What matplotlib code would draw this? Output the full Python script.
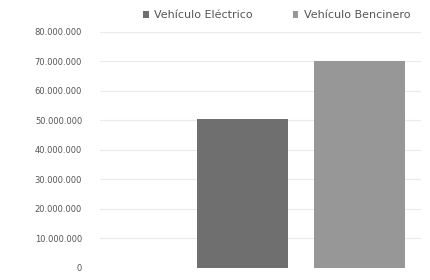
import matplotlib
matplotlib.use("Agg")
import matplotlib.pyplot as plt
from matplotlib.ticker import FuncFormatter

series = ["Vehículo Eléctrico", "Vehículo Bencinero"]
values = [50500000, 70000000]
colors = ["#6f6f6f", "#979797"]
yticks = [0, 10000000, 20000000, 30000000, 40000000, 50000000, 60000000, 70000000, 80000000]

fig = plt.figure(figsize=(4.3, 2.8), dpi=100)
ax = fig.add_axes([0.233, 0.043, 0.747, 0.843])

width = 0.4
offsets = [-0.256, 0.256]
for name, v, c, off in zip(series, values, colors, offsets):
    ax.bar(off, v, width=width, color=c, label=name, zorder=2)

ax.set_xlim(-0.882, 0.529)
ax.set_ylim(0, 80000000)
ax.set_yticks(yticks)
ax.yaxis.set_major_formatter(FuncFormatter(lambda v, p: f"{int(v):,}".replace(",", ".")))
ax.set_xticks([])
ax.tick_params(axis="y", length=0, pad=13, labelsize=6, labelcolor="#555555")
ax.grid(axis="y", color="#ebebeb", linewidth=0.8, zorder=0)
for s in ax.spines.values():
    s.set_visible(False)

leg = ax.legend(loc="lower left", bbox_to_anchor=(0.12, 1.03), ncol=2, frameon=False,
                fontsize=8, handlelength=0.5, handleheight=0.5, columnspacing=3.6,
                handletextpad=0.5, borderaxespad=0)
for t in leg.get_texts():
    t.set_color("#555555")

fig.savefig("out.png", dpi=100)
